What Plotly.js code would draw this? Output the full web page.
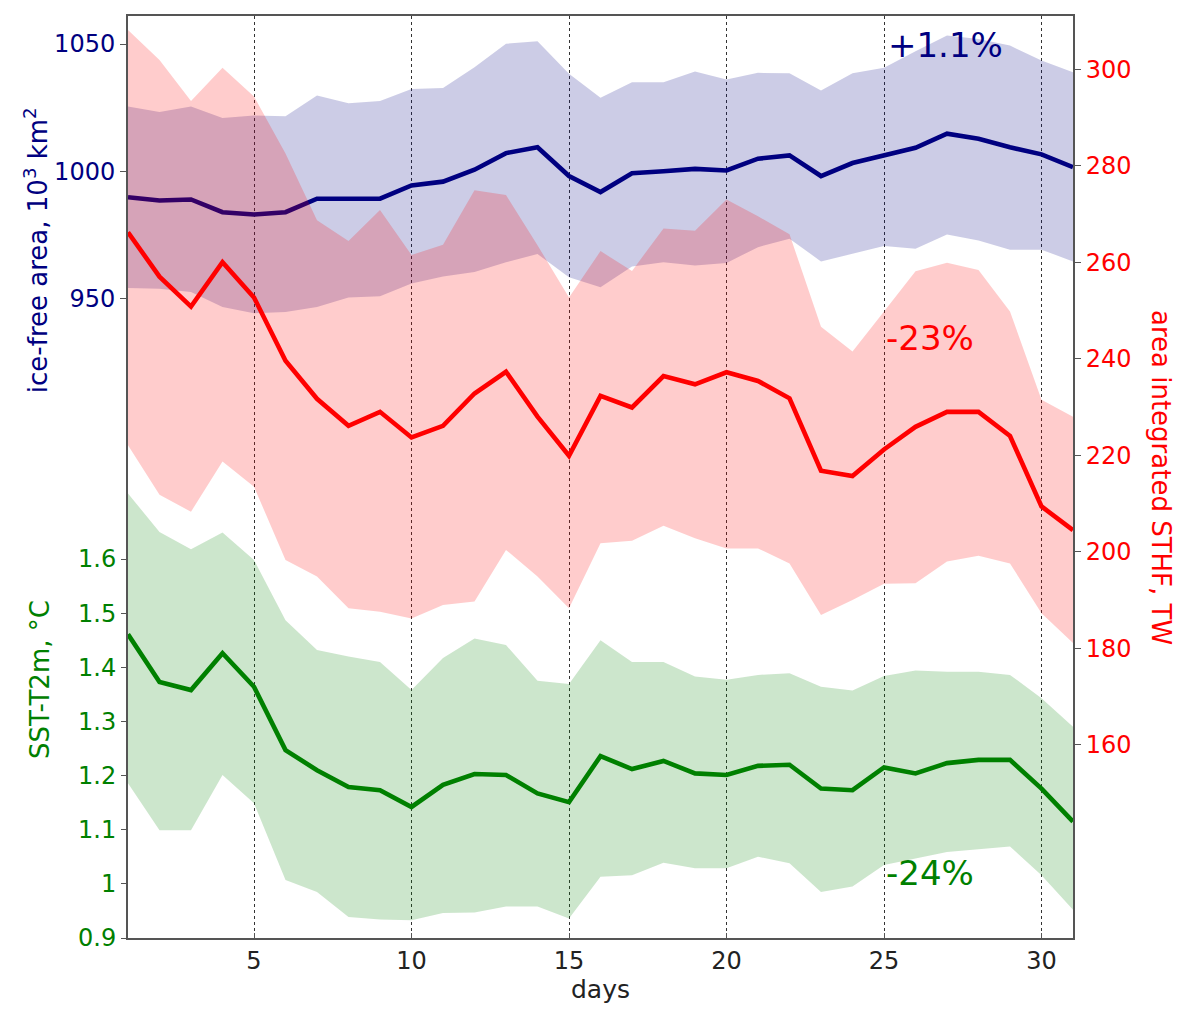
<!DOCTYPE html>
<html>
<head>
<meta charset="utf-8">
<script src="https://cdn.plot.ly/plotly-3.0.1.min.js"></script>
<style>html,body{margin:0;padding:0;background:#fff;}#chart{width:1181px;height:1009px;}</style>
</head>
<body>
<div id="chart"></div>
<script>
// ---- data ----
const days = [1,2,3,4,5,6,7,8,9,10,11,12,13,14,15,16,17,18,19,20,21,22,23,24,25,26,27,28,29,30,31];

const iceMean  = [989.9,988.6,989.0,984.0,983.1,984.0,989.3,989.5,989.3,994.5,996.0,1000.7,1007.2,1009.5,998.2,991.9,999.3,1000.1,1001.0,1000.4,1005.0,1006.3,998.2,1003.3,1006.3,1009.3,1014.8,1012.8,1009.5,1006.7,1001.7];
const iceUpper = [1025.5,1023.3,1025.5,1021.0,1022.0,1021.7,1029.8,1026.8,1027.6,1032.4,1032.7,1040.9,1050.1,1051.1,1038.3,1028.9,1035.0,1035.0,1039.2,1036.1,1038.7,1038.5,1031.8,1038.5,1040.7,1047.2,1053.3,1052.0,1049.4,1043.5,1038.9];
const iceLower = [954.3,954.0,952.7,946.8,944.4,944.8,946.8,950.5,951.0,956.0,958.8,960.5,964.4,967.6,958.5,954.6,962.7,964.4,963.1,964.1,970.3,973.6,964.7,967.7,970.7,969.7,975.3,972.9,969.3,969.3,964.7];

const sthfMean  = [266.2,257.0,250.8,260.0,252.7,239.6,231.7,226.1,229.0,223.7,226.1,232.8,237.3,228.0,219.9,232.3,229.9,236.4,234.7,237.2,235.4,231.8,216.8,215.7,221.2,225.9,229.0,229.0,224.0,209.4,204.5];
const sthfUpper = [308.1,301.9,293.4,300.3,294.3,282.5,268.7,264.4,270.8,261.5,263.6,274.9,273.9,263.5,252.7,262.3,258.2,267.0,266.5,273.0,269.5,265.8,246.6,241.5,249.8,258.1,259.9,258.4,249.8,231.5,228.0];
const sthfLower = [222.1,211.8,208.3,218.7,213.5,198.3,194.9,188.3,187.6,186.2,189.0,189.7,200.4,194.9,188.3,201.8,202.3,205.4,202.8,200.7,200.7,197.6,186.9,190.0,193.4,193.5,198.0,199.2,197.6,187.3,181.1];

const sstMean  = [1.461,1.373,1.358,1.426,1.364,1.247,1.210,1.179,1.173,1.142,1.183,1.203,1.201,1.167,1.151,1.236,1.212,1.227,1.204,1.201,1.218,1.220,1.176,1.173,1.215,1.204,1.223,1.229,1.229,1.176,1.115];
const sstUpper = [1.721,1.650,1.618,1.649,1.598,1.487,1.432,1.420,1.410,1.358,1.417,1.453,1.441,1.375,1.369,1.450,1.410,1.410,1.383,1.377,1.386,1.389,1.364,1.357,1.384,1.394,1.392,1.392,1.386,1.343,1.290];
const sstLower = [1.186,1.099,1.099,1.201,1.149,1.007,0.985,0.939,0.934,0.933,0.946,0.947,0.958,0.958,0.936,1.013,1.016,1.039,1.029,1.029,1.050,1.038,0.985,0.995,1.035,1.047,1.059,1.064,1.069,1.016,0.952];

const iceTicks  = [950, 1000, 1050];
const sthfTicks = [160, 180, 200, 220, 240, 260, 280, 300];
const sstTicks  = [0.9, 1.0, 1.1, 1.2, 1.3, 1.4, 1.5, 1.6];
const sstTickText = ['0.9', '1', '1.1', '1.2', '1.3', '1.4', '1.5', '1.6'];

const labels = {
  ice: 'ice-free area, 10<sup>3</sup> km<sup>2</sup>',
  sst: 'SST-T2m, °C',
  sthf: 'area integrated STHF, TW',
  x: 'days',
  icePct: '+1.1%',
  sthfPct: '-23%',
  sstPct: '-24%'
};

// ---- styles ----
const NAVY = '#000080', RED = '#ff0000', GREEN = '#008000';
const FONT = 'DejaVu Sans, sans-serif';

function band(lower, upper, yaxis, fillcolor) {
  return [
    {x: days, y: lower, yaxis: yaxis, mode: 'lines', line: {width: 0, color: fillcolor}, hoverinfo: 'skip', showlegend: false},
    {x: days, y: upper, yaxis: yaxis, mode: 'lines', line: {width: 0, color: fillcolor}, fill: 'tonexty', fillcolor: fillcolor, hoverinfo: 'skip', showlegend: false}
  ];
}
function meanLine(vals, yaxis, color) {
  return {x: days, y: vals, yaxis: yaxis, mode: 'lines', line: {width: 4.6, color: color}, showlegend: false};
}

const traces = [
  ...band(iceLower, iceUpper, 'y', 'rgba(0,0,128,0.2)'),
  meanLine(iceMean, 'y', NAVY),
  ...band(sthfLower, sthfUpper, 'y2', 'rgba(255,0,0,0.2)'),
  meanLine(sthfMean, 'y2', RED),
  ...band(sstLower, sstUpper, 'y3', 'rgba(0,128,0,0.2)'),
  meanLine(sstMean, 'y3', GREEN)
];

const layout = {
  width: 1181, height: 1009,
  margin: {l: 128, r: 108, t: 16, b: 71},
  paper_bgcolor: '#fff', plot_bgcolor: '#fff',
  font: {family: FONT, size: 24, color: '#222'},
  showlegend: false,
  xaxis: {
    range: [1, 31], tick0: 0, dtick: 5,
    showgrid: true, gridcolor: '#333', griddash: 'dot', gridwidth: 1,
    zeroline: false, showline: true, mirror: true, linecolor: '#555', linewidth: 2,
    ticks: 'inside', ticklen: 5, tickcolor: '#555',
    tickfont: {family: FONT, size: 24, color: '#222'},
    title: {text: labels.x, font: {family: FONT, size: 25, color: '#222'}, standoff: 6},
    automargin: false
  },
  yaxis: {
    range: [699.2, 1061], tickvals: iceTicks, side: 'left',
    showgrid: false, zeroline: false, showline: true, linecolor: '#555', linewidth: 2,
    ticks: 'outside', ticklen: 6, tickcolor: '#555',
    tickfont: {family: FONT, size: 24, color: NAVY},
    automargin: false
  },
  yaxis2: {
    range: [120, 311], tickvals: sthfTicks, side: 'right', overlaying: 'y',
    showgrid: false, zeroline: false, showline: true, linecolor: '#555', linewidth: 2,
    ticks: 'outside', ticklen: 6, tickcolor: '#555',
    tickfont: {family: FONT, size: 24, color: RED},
    automargin: false
  },
  yaxis3: {
    range: [0.9, 2.603], tickvals: sstTicks, ticktext: sstTickText, side: 'left', overlaying: 'y',
    showgrid: false, zeroline: false, showline: false,
    ticks: 'outside', ticklen: 6, tickcolor: '#555',
    tickfont: {family: FONT, size: 24, color: GREEN},
    automargin: false
  },
  annotations: [
    {text: labels.ice, xref: 'paper', yref: 'paper', x: -0.0974, y: 0.746, textangle: -90, showarrow: false,
     xanchor: 'center', yanchor: 'middle', font: {family: FONT, size: 26, color: NAVY}},
    {text: labels.sst, xref: 'paper', yref: 'paper', x: -0.0931, y: 0.2798, textangle: -90, showarrow: false,
     xanchor: 'center', yanchor: 'middle', font: {family: FONT, size: 26, color: GREEN}},
    {text: labels.sthf, xref: 'paper', yref: 'paper', x: 1.0931, y: 0.499, textangle: 90, showarrow: false,
     xanchor: 'center', yanchor: 'middle', font: {family: FONT, size: 26, color: RED}},
    {text: labels.icePct, xref: 'paper', yref: 'paper', x: 0.802, y: 0.9685, showarrow: false,
     xanchor: 'left', yanchor: 'middle', font: {family: FONT, size: 34, color: NAVY}},
    {text: labels.sthfPct, xref: 'paper', yref: 'paper', x: 0.800, y: 0.6508, showarrow: false,
     xanchor: 'left', yanchor: 'middle', font: {family: FONT, size: 34, color: RED}},
    {text: labels.sstPct, xref: 'paper', yref: 'paper', x: 0.800, y: 0.0705, showarrow: false,
     xanchor: 'left', yanchor: 'middle', font: {family: FONT, size: 34, color: GREEN}}
  ]
};

Plotly.newPlot('chart', traces, layout, {displayModeBar: false, staticPlot: true});
</script>
</body>
</html>
